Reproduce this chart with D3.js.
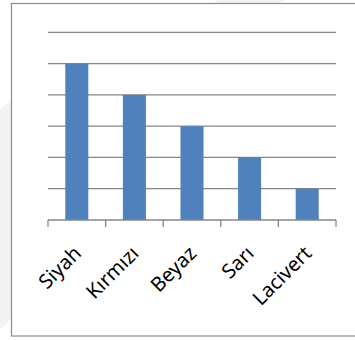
<!DOCTYPE html>
<html>
<head>
<meta charset="utf-8">
<script src="https://cdn.jsdelivr.net/npm/d3@7"></script>
<style>
  body { margin: 0; background: #fff; }
  svg { display: block; }
</style>
</head>
<body>
<div id="chart"></div>
<script>
// bar chart, no value labels on y, just gridlines
const categories = ["Siyah", "Kırmızı", "Beyaz", "Sarı", "Lacivert"];
const values = [5, 4, 3, 2, 1];
const gridTicks = [1, 2, 3, 4, 5, 6];

const W = 355, H = 340;
const plot = { left: 48, right: 336, top: 32.3, bottom: 220 };

const svg = d3.select("#chart").append("svg")
    .attr("width", W)
    .attr("height", H);

// faint watermark behind the chart frame
svg.append("path")
    .attr("d", "M0,110 L30,80 L30,300 L0,330 Z")
    .attr("fill", "#ebebeb")
    .attr("opacity", 0.6);
svg.append("path")
    .attr("d", "M215,0 L285,0 L275,8 L225,8 Z")
    .attr("fill", "#ebebeb")
    .attr("opacity", 0.6);

// chart frame
svg.append("rect")
    .attr("x", 11.5)
    .attr("y", 3.5)
    .attr("width", 360)
    .attr("height", 332.5)
    .attr("fill", "#fff")
    .attr("stroke", "#8c8c8c")
    .attr("stroke-width", 1.2);

const x = d3.scaleBand()
    .domain(categories)
    .range([plot.left, plot.right])
    .paddingInner(0.6)
    .paddingOuter(0.3);

const y = d3.scaleLinear()
    .domain([0, 6])
    .range([plot.bottom, plot.top]);

// gridlines
svg.append("g")
    .selectAll("line")
    .data(gridTicks)
    .enter()
    .append("line")
    .attr("x1", plot.left)
    .attr("x2", plot.right)
    .attr("y1", d => y(d))
    .attr("y2", d => y(d))
    .attr("stroke", "#868686")
    .attr("stroke-width", 1.3);

// bars
svg.append("g")
    .selectAll("rect")
    .data(values)
    .enter()
    .append("rect")
    .attr("x", (d, i) => x(categories[i]))
    .attr("y", d => y(d))
    .attr("width", x.bandwidth())
    .attr("height", d => y(0) - y(d))
    .attr("fill", "#4f81bd");

// x axis line + ticks between categories
const step = x.step();
const tickPos = d3.range(categories.length + 1)
    .map(i => x(categories[0]) - step * x.paddingOuter() + i * step);

svg.append("line")
    .attr("x1", plot.left)
    .attr("x2", plot.right)
    .attr("y1", y(0))
    .attr("y2", y(0))
    .attr("stroke", "#868686")
    .attr("stroke-width", 1.3);

svg.append("g")
    .selectAll("line")
    .data(tickPos)
    .enter()
    .append("line")
    .attr("x1", d => d)
    .attr("x2", d => d)
    .attr("y1", y(0))
    .attr("y2", y(0) + 7)
    .attr("stroke", "#868686")
    .attr("stroke-width", 1.3);

// rotated category labels
svg.append("g")
    .selectAll("text")
    .data(categories)
    .enter()
    .append("text")
    .attr("transform", d => `translate(${x(d) + x.bandwidth() / 2 - 5}, 244) rotate(-45)`)
    .attr("text-anchor", "end")
    .attr("dy", "0.75em")
    .style("font-family", "'Noto Sans', sans-serif")
    .style("font-size", "20px")
    .attr("fill", "#000")
    .text(d => d);
</script>
</body>
</html>
